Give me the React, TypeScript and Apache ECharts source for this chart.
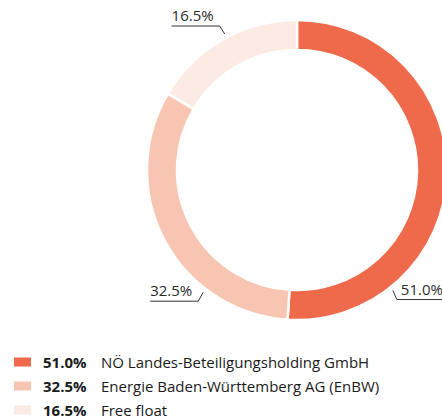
import React, { useEffect, useRef } from "react";
import * as echarts from "echarts";

const names = [
  "NÖ Landes-Beteiligungsholding GmbH",
  "Energie Baden-Württemberg AG (EnBW)",
  "Free float",
];
const shares = [51.0, 32.5, 16.5];
const colors = ["#EE6A4B", "#F8C5B2", "#FCEBE4"];

const FONT = "'Open Sans', 'Noto Sans', sans-serif";
const CX = 297;
const CY = 170;
const R_OUT = 150;
const R_IN = 120;
const R_ANCHOR = 154;
// angles (deg, counterclockwise from 3 o'clock) where each label line starts
const LABEL_ANCHOR_DEG = [-51.5, -127.5, 118];

export default function App() {
  const ref = useRef<HTMLDivElement>(null);
  useEffect(() => {
    if (!ref.current) return;
    const chart = echarts.init(ref.current, undefined, { renderer: "svg" });
    const fmt = (v: number) => v.toFixed(1) + "%";
    const data = names.map((n, i) => ({
      name: n,
      value: shares[i],
      itemStyle: { color: colors[i] },
    }));
    chart.setOption({
      animation: false,
      legend: {
        orient: "vertical",
        left: 12,
        top: 354,
        height: 80,
        padding: 0,
        itemWidth: 19,
        itemHeight: 11,
        itemGap: 8,
        icon: "rect",
        selectedMode: false,
        data: names,
        formatter: (name: string) => {
          const i = names.indexOf(name);
          return `{p|${fmt(shares[i])}}{n|${name}}`;
        },
        textStyle: {
          fontFamily: FONT,
          fontSize: 15,
          color: "#1a1a1a",
          lineHeight: 16,
          padding: [0, 0, 0, 6],
          rich: {
            p: {
              fontFamily: FONT,
              fontSize: 15,
              fontWeight: "bold",
              color: "#1a1a1a",
              width: 58,
              lineHeight: 16,
            },
            n: {
              fontFamily: FONT,
              fontSize: 15,
              color: "#1a1a1a",
              lineHeight: 16,
            },
          },
        },
      },
      series: [
        {
          type: "pie",
          left: 0,
          top: 0,
          width: 2000,
          height: 418,
          center: [CX, CY],
          radius: [R_IN, R_OUT],
          startAngle: 90,
          clockwise: true,
          avoidLabelOverlap: false,
          data,
          itemStyle: { borderColor: "#ffffff", borderWidth: 2.5 },
          emphasis: { disabled: true },
          label: {
            show: true,
            position: "outside",
            formatter: (p: any) => fmt(p.value),
            fontFamily: FONT,
            fontSize: 15,
            lineHeight: 18,
            color: "#2b2b2b",
          },
          labelLine: {
            show: true,
            length: 8,
            length2: 40,
            lineStyle: { color: "#333333", width: 1 },
          },
          labelLayout: (p: any) => {
            const i = p.dataIndex;
            const a = (LABEL_ANCHOR_DEG[i] * Math.PI) / 180;
            const ax = CX + R_ANCHOR * Math.cos(a);
            const ay = CY - R_ANCHOR * Math.sin(a);
            const right = Math.cos(a) > 0;
            const up = Math.sin(a) > 0;
            const bx = ax + (right ? 4 : -5);
            const by = ay + (up ? -8 : 9);
            const w = p.labelRect.width;
            const tx = right ? bx + 4 : bx - 6;
            const ex = right ? tx + w : tx - w;
            return {
              x: tx,
              y: by - 2,
              align: right ? "left" : "right",
              verticalAlign: "bottom",
              labelLinePoints: [
                [ax, ay],
                [bx, by],
                [ex, by],
              ],
            };
          },
        },
      ],
    });
    return () => chart.dispose();
  }, []);
  return (
    <div
      ref={ref}
      style={{ position: "absolute", left: 0, top: 0, width: 442, height: 418 }}
    />
  );
}
